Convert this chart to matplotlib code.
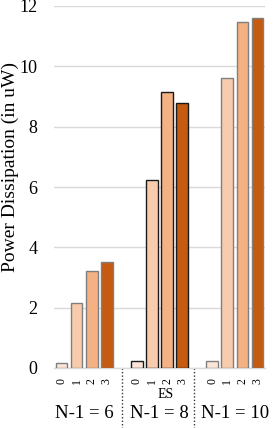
import matplotlib
matplotlib.use("Agg")
import matplotlib.pyplot as plt
import matplotlib.transforms as mtransforms

plt.rcParams['font.family'] = ['Liberation Serif', 'DejaVu Serif']

groups = ["N-1 = 6", "N-1 = 8", "N-1 = 10"]
levels = ["0", "1", "2", "3"]
values = [
    [0.17, 2.15, 3.22, 3.52],
    [0.22, 6.23, 9.14, 8.77],
    [0.23, 9.62, 11.48, 11.59],
]
bar_colors = ["#FBE5D6", "#F8CBAD", "#F4B183", "#C55A11"]
edge_colors = ["#7F7F7F", "#1A1A1A", "#7F7F7F"]
yticks = [0, 2, 4, 6, 8, 10, 12]
dividers = [4, 8.8]

fig = plt.figure(figsize=(2.74, 4.28), dpi=100)
ax = fig.add_axes([54/274, 1-368/428, 211/274, 362/428])

xs, labels = [], []
for g, vals in enumerate(values):
    for i, v in enumerate(vals):
        x = g * 5 + i
        ax.bar(x, v, width=0.78, color=bar_colors[i], edgecolor=edge_colors[g],
               linewidth=1.0, zorder=3)
        xs.append(x)
        labels.append(levels[i])

ax.set_xlim(-0.5, 13.5)
ax.set_ylim(0, 12)
ax.set_yticks(yticks)
ax.set_yticklabels([str(t) for t in yticks], fontsize=13)
ax.set_xticks(xs)
ax.set_xticklabels(labels, rotation=90, fontsize=8.5)
ax.tick_params(axis='both', length=0)
ax.tick_params(axis='y', pad=12)
ax.tick_params(axis='x', pad=7)
ax.grid(axis='y', color='#D9D9D9', linewidth=1.0, zorder=0)
for s in ['top', 'right', 'left']:
    ax.spines[s].set_visible(False)
ax.spines['bottom'].set_color('#D9D9D9')
ax.spines['bottom'].set_linewidth(1.0)
ax.set_ylabel("Power Dissipation (in uW)", fontsize=14)
ax.yaxis.set_label_coords(-0.168, 0.555)

trans = mtransforms.blended_transform_factory(ax.transData, ax.transAxes)
for xd in dividers:
    ax.plot([xd, xd], [0, -0.17], transform=trans, color='#333333',
            linestyle=(0, (1, 1.5)), linewidth=1.0, clip_on=False)

for g, name in enumerate(groups):
    ax.text(g * 5 + 1.5, -0.127, name, transform=trans, ha='center', va='center',
            fontsize=13.5)

ax.text(6.9, -0.074, "ES", transform=trans, ha='center', va='center', fontsize=10)

fig.savefig("out.png", dpi=100)
